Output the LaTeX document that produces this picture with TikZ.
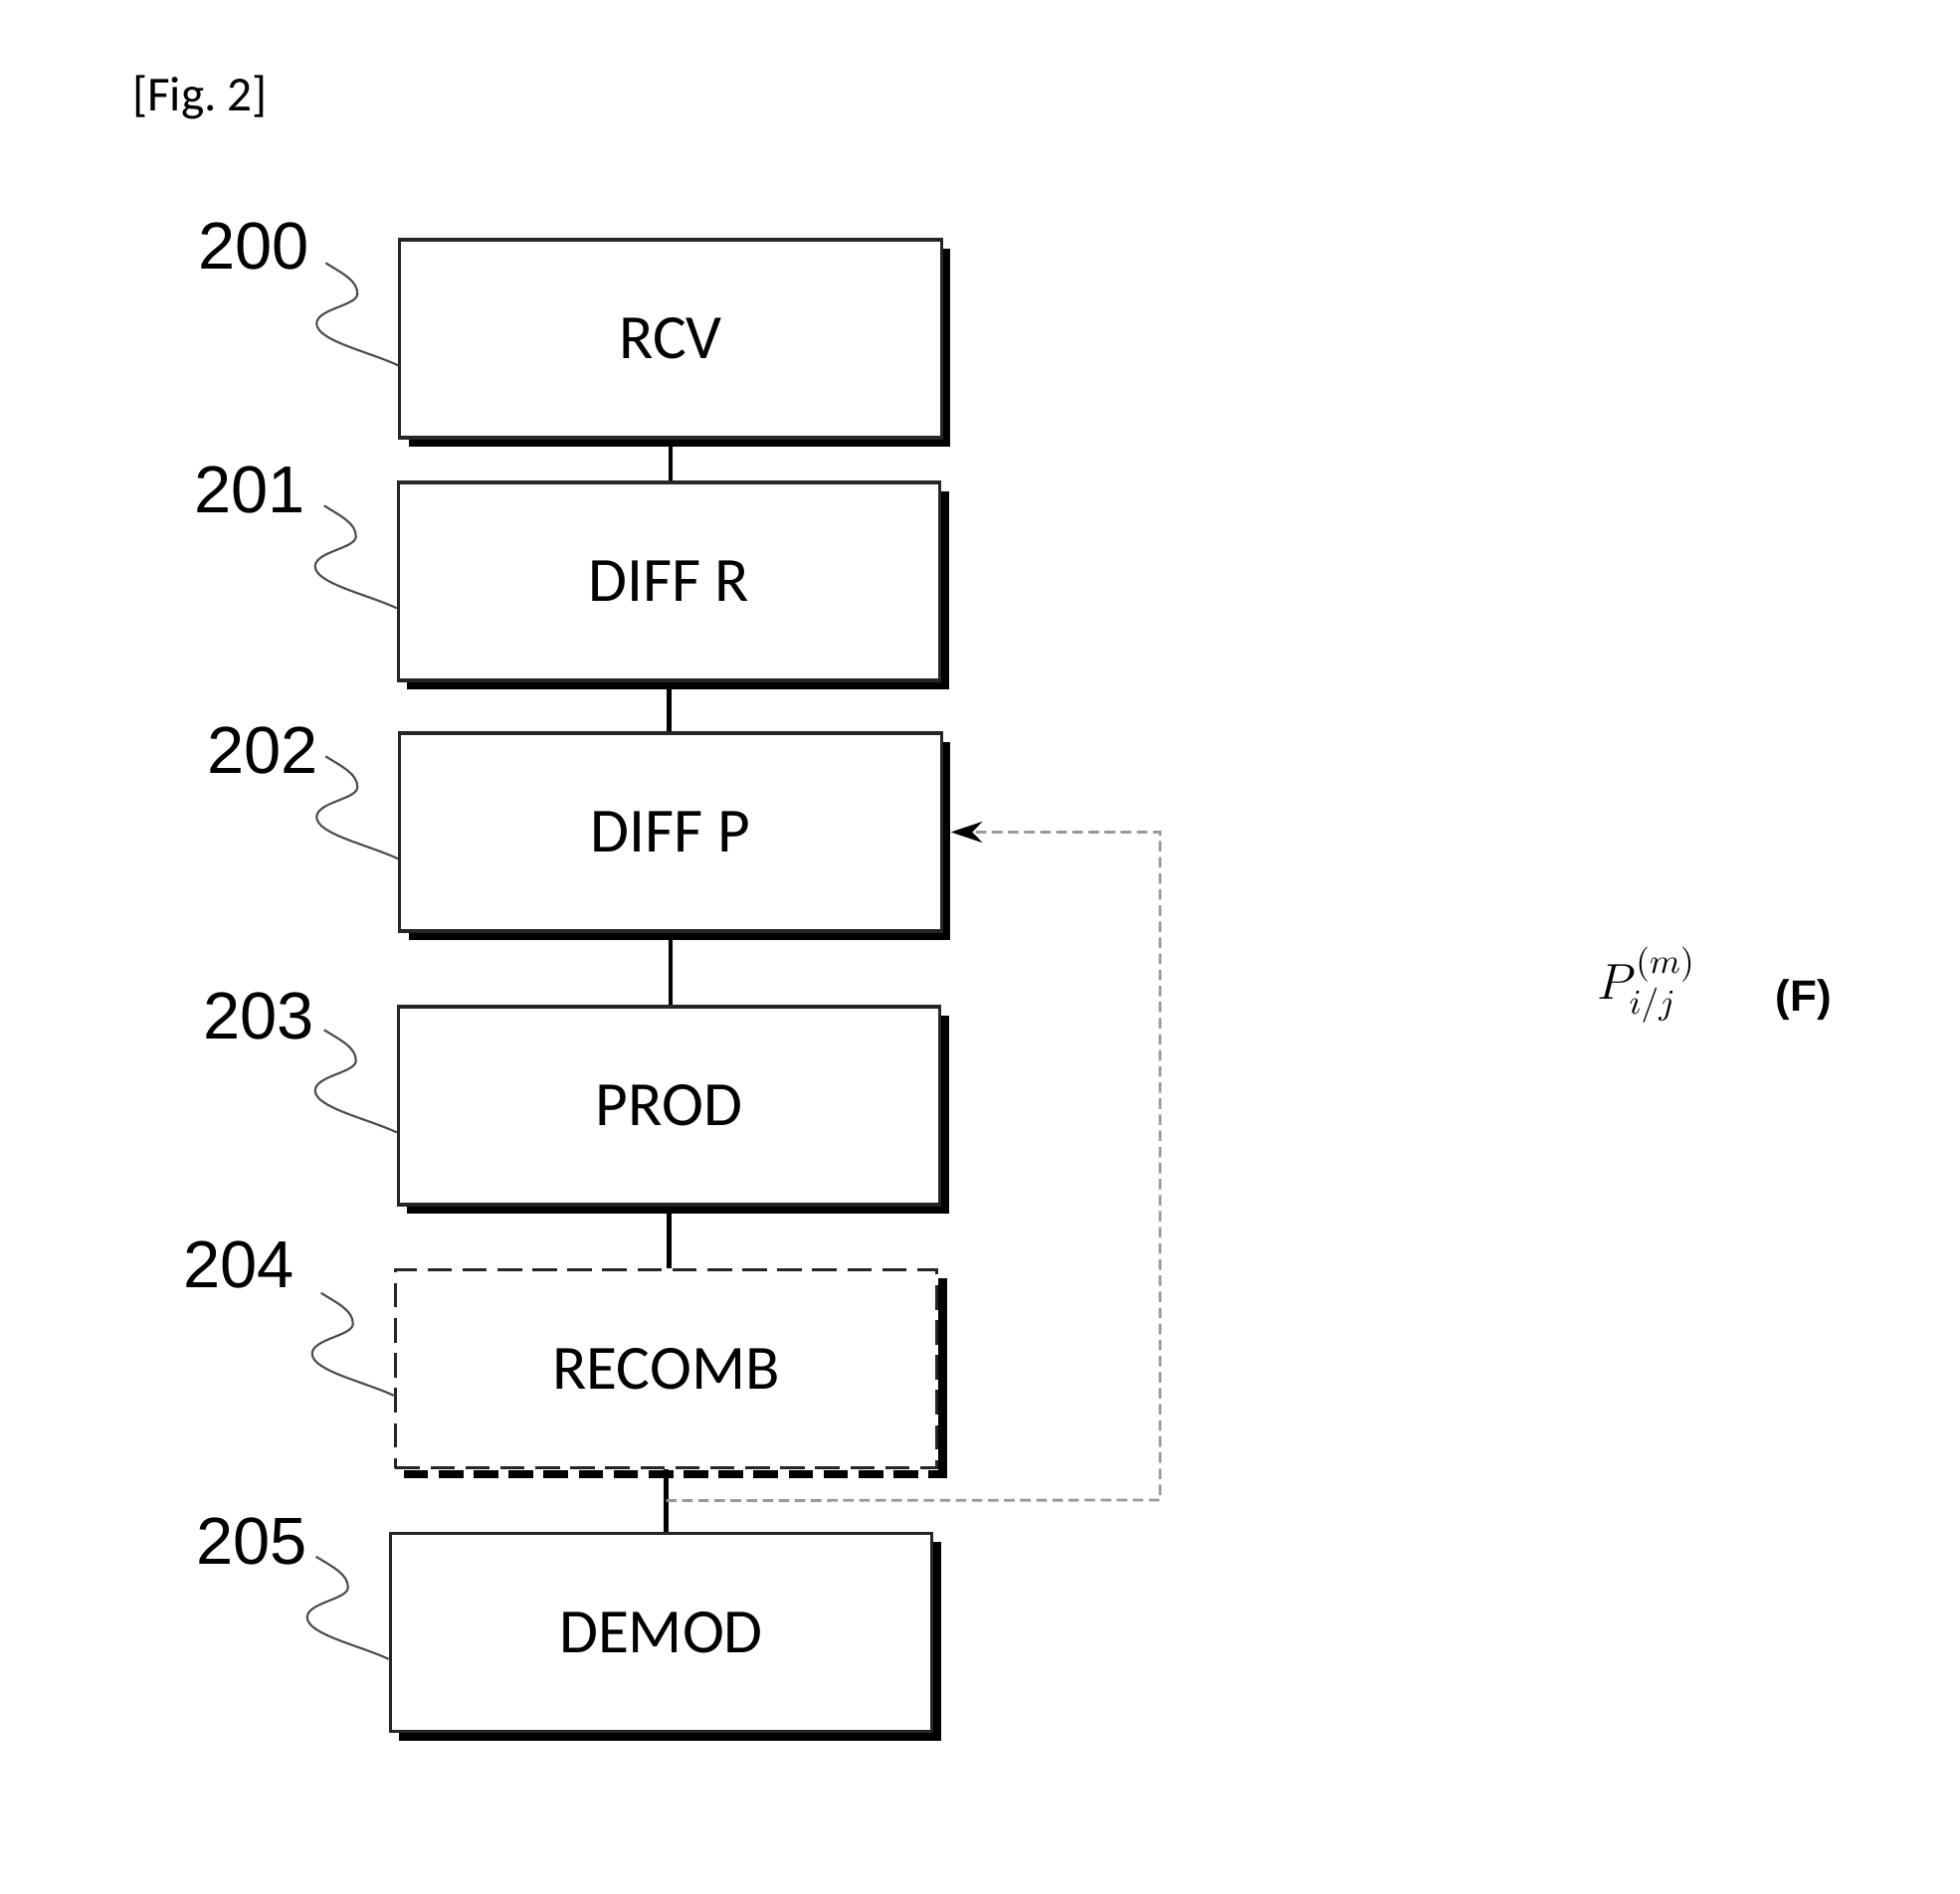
\documentclass[tikz,border=0pt]{standalone}
\usepackage{fontspec}
\setmainfont{Carlito}
\newfontfamily\numfont{Liberation Sans}
\usetikzlibrary{calc,arrows.meta,shadows}
\begin{document}
\begin{tikzpicture}[x=0.01cm,y=-0.01cm,
  blkbase/.style={line width=0.9pt, fill=white, minimum width=5.44cm, minimum height=1.99cm,
    inner sep=0pt, font=\fontsize{18}{20}\selectfont},
  blk/.style={blkbase, draw=black!85,
    drop shadow={shadow xshift=0.09cm, shadow yshift=-0.09cm, fill=black, opacity=1}},
  dblk/.style={blkbase, draw=black!85, dash pattern=on 7pt off 3pt},
  conn/.style={line width=1.4pt, black},
  num/.style={font=\numfont\fontsize{19}{21}\selectfont},
  lead/.style={line width=0.6pt, black!70},
  fbline/.style={line width=0.8pt, gray!80, dash pattern=on 3pt off 1.6pt}
]
\useasboundingbox (0,0) rectangle (1970,1904);

\node[font=\fontsize{14}{16}\selectfont] (fig) at (201,98) {[Fig.~2]};

\node[blk] (rcv) at (674,340.5) {RCV};
\node[blk] (difr) at (672.5,584.5) {DIFF R};
\node[blk] (difp) at (674,836.5) {DIFF P};
\node[blk] (prod) at (672.5,1111.5) {PROD};
\node[dblk] (recomb) at (669.5,1376) {RECOMB};
\node[blk] (demod) at (664.5,1641) {DEMOD};

% shadow of the dashed box
\fill[black] ($(recomb.north east)+(0,10)$) rectangle ($(recomb.south east)+(9,9)$);
\draw[black, line width=2.4pt, dash pattern=on 7pt off 3pt] ($(recomb.south west)+(10,5)$) -- ($(recomb.south east)+(9,5)$);

% connectors
\draw[conn] (rcv.south) -- (rcv.south |- difr.north);
\draw[conn] (difr.south) -- (difr.south |- difp.north);
\draw[conn] (difp.south) -- (difp.south |- prod.north);
\draw[conn] (prod.south) -- (prod.south |- recomb.north);
\draw[conn] (recomb.south) -- (recomb.south |- demod.north);

% feedback
\coordinate (fb) at ($(recomb.south)!0.5!(recomb.south |- demod.north)$);
\coordinate (fbr) at (1166,1508);
\coordinate (fbt) at (fbr |- difp.east);
\draw[fbline, -{Stealth[length=9pt,width=6pt,color=black]}] (fb) -- (fbr) -- (fbt) -- ($(difp.east)+(8,0)$);

% reference numerals
\node[num] (n200) at (255,248) {200};
\node[num] (n201) at (251,493) {201};
\node[num] (n202) at (264,755) {202};
\node[num] (n203) at (260,1021) {203};
\node[num] (n204) at (240,1271) {204};
\node[num] (n205) at (253,1549) {205};

% leader lines
\foreach \b in {rcv,difr,difp,prod,recomb,demod}{
  \coordinate (e) at ($(\b.north west)+(0,128)$);
  \draw[lead] ($(e)+(-73,-103)$) .. controls ($(e)+(-55,-92)$) and ($(e)+(-41,-85)$) .. ($(e)+(-41,-72)$)
     .. controls ($(e)+(-41,-60)$) and ($(e)+(-82,-57)$) .. ($(e)+(-82,-42)$)
     .. controls ($(e)+(-82,-25)$) and ($(e)+(-30,-14)$) .. (e);
}

% formula
\node[font=\fontsize{14.5}{16}\selectfont] (form) at (1655,990) {$P_{i/j}^{(m)}$};
\node[font=\numfont\bfseries\fontsize{12.5}{14}\selectfont] (flab) at (1813,1005) {(F)};
\end{tikzpicture}
\end{document}
